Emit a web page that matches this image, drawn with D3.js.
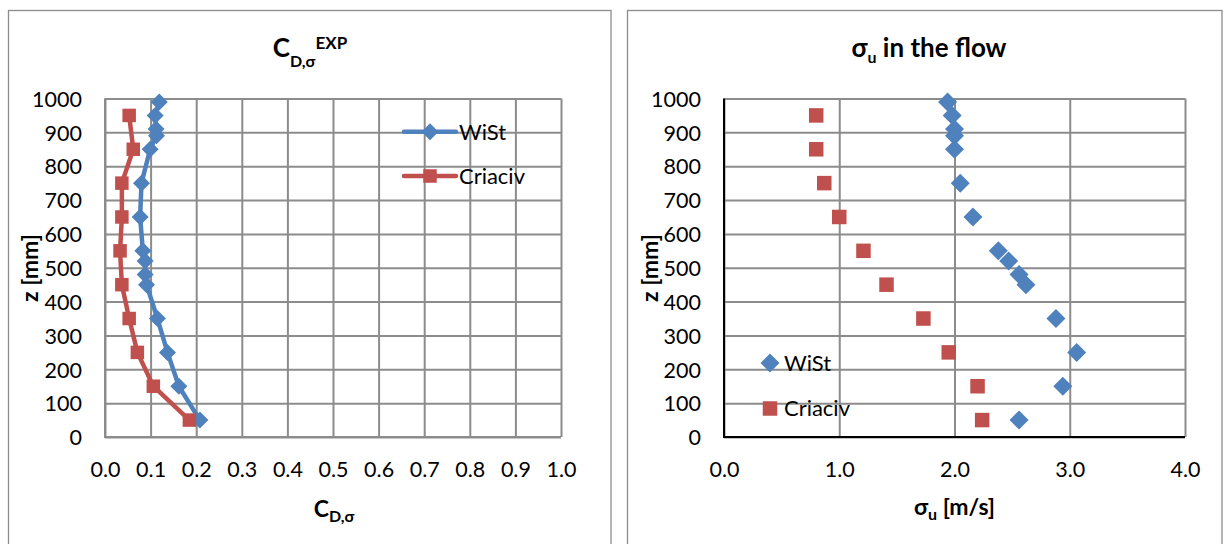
<!DOCTYPE html>
<html>
<head>
<meta charset="utf-8">
<script src="https://cdn.jsdelivr.net/npm/d3@7"></script>
<style>
  html, body { margin: 0; padding: 0; background: #fff; }
  svg { display: block; font-family: Lato, "Noto Sans", "DejaVu Sans", sans-serif; }
</style>
</head>
<body>
<svg id="chart" width="1224" height="544"></svg>
<script>
// Measurement heights [mm]
const heightsWiSt = [990, 950, 910, 890, 850, 750, 650, 550, 520, 480, 450, 350, 250, 150, 50];
const heightsCriaciv = [950, 850, 750, 650, 550, 450, 350, 250, 150, 50];

// Drag coefficient C_D,σ
const cdWiSt = [0.119, 0.110, 0.112, 0.113, 0.099, 0.080, 0.077, 0.083, 0.088, 0.088, 0.091, 0.115, 0.137, 0.162, 0.208];
const cdCriaciv = [0.053, 0.062, 0.037, 0.037, 0.033, 0.037, 0.053, 0.071, 0.106, 0.185];

// Turbulence σu in the flow [m/s]
const sigmaWiSt = [1.94, 1.98, 2.00, 2.00, 2.00, 2.05, 2.16, 2.38, 2.47, 2.56, 2.62, 2.88, 3.06, 2.94, 2.56];
const sigmaCriaciv = [0.80, 0.80, 0.87, 1.00, 1.21, 1.41, 1.73, 1.95, 2.20, 2.24];

// Tick values
const zTicks = [0, 100, 200, 300, 400, 500, 600, 700, 800, 900, 1000];
const cdTicks = [0, 0.1, 0.2, 0.3, 0.4, 0.5, 0.6, 0.7, 0.8, 0.9, 1.0];
const sigmaTicks = [0, 1, 2, 3, 4];

const seriesNames = ["WiSt", "Criaciv"];
const BLUE = "#4f81bd", RED = "#c0504d", GRID = "#8c8c8c";
const FONT = "Lato, 'Noto Sans', sans-serif";

const svg = d3.select("#chart");

// chart frames
svg.append("rect").attr("x", 8.5).attr("y", 10.5).attr("width", 602.5).attr("height", 560)
  .attr("fill", "none").attr("stroke", GRID).attr("stroke-width", 1.3);
svg.append("rect").attr("x", 627.5).attr("y", 10.5).attr("width", 594.5).attr("height", 560)
  .attr("fill", "none").attr("stroke", GRID).attr("stroke-width", 1.3);

const y = d3.scaleLinear().domain([0, 1000]).range([437, 98.5]);
const xL = d3.scaleLinear().domain([0, 1]).range([105, 561]);
const xR = d3.scaleLinear().domain([0, 4]).range([724, 1185]);

function diamond(g, cx, cy, d, color) {
  const r = d / 2;
  g.append("path").attr("d", `M${cx},${cy - r}L${cx + r},${cy}L${cx},${cy + r}L${cx - r},${cy}Z`).attr("fill", color);
}
function square(g, cx, cy, s, color) {
  g.append("rect").attr("x", cx - s / 2).attr("y", cy - s / 2).attr("width", s).attr("height", s).attr("fill", color);
}

function drawAxes(x, ticks, fmt, axisColor) {
  const g = svg.append("g");
  const [x0, x1] = x.range();
  const [y0, y1] = y.range();
  // horizontal gridlines
  g.append("g").attr("transform", `translate(${x0},0)`)
    .call(d3.axisLeft(y).tickValues(zTicks).tickSize(-(x1 - x0)).tickFormat(""))
    .call(a => a.select(".domain").remove())
    .call(a => a.selectAll("line").attr("stroke", GRID).attr("stroke-width", 2));
  // vertical gridlines
  g.append("g").attr("transform", `translate(0,${y0})`)
    .call(d3.axisBottom(x).tickValues(ticks).tickSize(-(y0 - y1)).tickFormat(""))
    .call(a => a.select(".domain").remove())
    .call(a => a.selectAll("line").attr("stroke", GRID).attr("stroke-width", 2));
  // axis lines
  g.append("line").attr("x1", x0).attr("x2", x0).attr("y1", y1).attr("y2", y0 + 1)
    .attr("stroke", axisColor).attr("stroke-width", 2);
  g.append("line").attr("x1", x0 - 1).attr("x2", x1).attr("y1", y0).attr("y2", y0)
    .attr("stroke", axisColor).attr("stroke-width", 2);
  // tick labels
  g.append("g").attr("transform", `translate(${x0 - 23},0)`)
    .call(d3.axisLeft(y).tickValues(zTicks).tickSize(0).tickPadding(0).tickFormat(d3.format("d")))
    .call(a => a.select(".domain").remove())
    .call(a => a.selectAll("text").attr("font-size", 21.5).attr("fill", "#000")
      .attr("font-family", FONT).attr("dy", "0.36em"));
  g.append("g").attr("transform", `translate(0,${y0})`)
    .call(d3.axisBottom(x).tickValues(ticks).tickSize(0).tickPadding(0).tickFormat(d3.format(fmt)))
    .call(a => a.select(".domain").remove())
    .call(a => a.selectAll("text").attr("font-size", 21.5).attr("fill", "#000")
      .attr("font-family", FONT).attr("y", 40).attr("dy", 0));
}

// ---------- Left chart: C_D,σ ----------
drawAxes(xL, cdTicks, ".1f", GRID);

const left = svg.append("g");
const line = d3.line();
left.append("path")
  .attr("d", line(heightsWiSt.map((z, i) => [xL(cdWiSt[i]), y(z)])))
  .attr("fill", "none").attr("stroke", BLUE).attr("stroke-width", 4.5).attr("stroke-linejoin", "round");
heightsWiSt.forEach((z, i) => diamond(left, xL(cdWiSt[i]), y(z), 17, BLUE));
left.append("path")
  .attr("d", line(heightsCriaciv.map((z, i) => [xL(cdCriaciv[i]), y(z)])))
  .attr("fill", "none").attr("stroke", RED).attr("stroke-width", 4.5).attr("stroke-linejoin", "round");
heightsCriaciv.forEach((z, i) => square(left, xL(cdCriaciv[i]), y(z), 13.5, RED));

// legend with line + marker
const legL = svg.append("g");
[[BLUE, 131.7], [RED, 176]].forEach(([c, ly], i) => {
  legL.append("line").attr("x1", 404).attr("x2", 456).attr("y1", ly).attr("y2", ly)
    .attr("stroke", c).attr("stroke-width", 4.5).attr("stroke-linecap", "round");
  if (i === 0) diamond(legL, 430, ly, 17, c); else square(legL, 430, ly, 13.5, c);
  legL.append("text").attr("x", 459).attr("y", ly).attr("dy", "0.36em")
    .attr("font-size", 22).text(seriesNames[i]);
});

// titles
const tL = svg.append("text").attr("x", 310).attr("y", 57).attr("text-anchor", "middle").attr("font-weight", "bold");
tL.append("tspan").attr("font-size", 26).text("C");
tL.append("tspan").attr("font-size", 16).attr("dy", 10).text("D,σ");
tL.append("tspan").attr("font-size", 17).attr("dy", -18).text("EXP");

const xtL = svg.append("text").attr("x", 334).attr("y", 517).attr("text-anchor", "middle").attr("font-weight", "bold");
xtL.append("tspan").attr("font-size", 23).text("C");
xtL.append("tspan").attr("font-size", 16).attr("dy", 5).text("D,σ");

svg.append("text").attr("transform", "translate(38,268) rotate(-90)").attr("text-anchor", "middle")
  .attr("font-weight", "bold").attr("font-size", 23).text("z [mm]");

// ---------- Right chart: σu ----------
drawAxes(xR, sigmaTicks, ".1f", "#000");

const right = svg.append("g");
heightsWiSt.forEach((z, i) => diamond(right, xR(sigmaWiSt[i]), y(z), 19, BLUE));
heightsCriaciv.forEach((z, i) => square(right, xR(sigmaCriaciv[i]), y(z), 14.5, RED));

const legR = svg.append("g");
diamond(legR, 770, 363, 19, BLUE);
square(legR, 770, 408.5, 14.5, RED);
legR.append("text").attr("x", 784).attr("y", 363).attr("dy", "0.36em").attr("font-size", 22).text(seriesNames[0]);
legR.append("text").attr("x", 784).attr("y", 408.5).attr("dy", "0.36em").attr("font-size", 22).text(seriesNames[1]);

const tR = svg.append("text").attr("x", 929).attr("y", 57).attr("text-anchor", "middle").attr("font-weight", "bold");
tR.append("tspan").attr("font-size", 26).text("σ");
tR.append("tspan").attr("font-size", 16).attr("dy", 6).text("u");
tR.append("tspan").attr("font-size", 26).attr("dy", -6).text(" in the flow");

const xtR = svg.append("text").attr("x", 954.5).attr("y", 515).attr("text-anchor", "middle").attr("font-weight", "bold");
xtR.append("tspan").attr("font-size", 23).text("σ");
xtR.append("tspan").attr("font-size", 16).attr("dy", 5).text("u");
xtR.append("tspan").attr("font-size", 23).attr("dy", -5).text(" [m/s]");

svg.append("text").attr("transform", "translate(658,268) rotate(-90)").attr("text-anchor", "middle")
  .attr("font-weight", "bold").attr("font-size", 23).text("z [mm]");
</script>
</body>
</html>
